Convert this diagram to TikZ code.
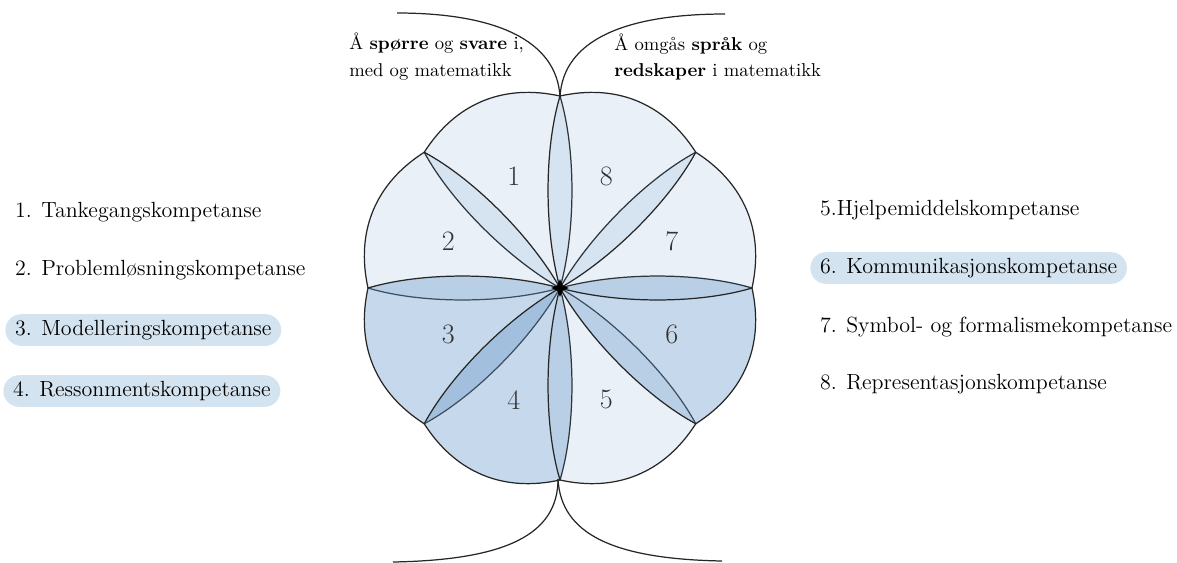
\documentclass[tikz,border=0pt]{standalone}
\usepackage{tikz}
\usetikzlibrary{shapes.geometric,positioning}
\definecolor{petalblue}{RGB}{100,150,200}
\definecolor{pillblue}{RGB}{212,227,240}

\begin{document}
\begin{tikzpicture}[x=0.02cm,y=-0.02cm,
 petal/.style={draw=black!85,line width=0.7pt,fill=petalblue,line join=round},
 pnum/.style={font=\fontsize{16}{18}\selectfont,text=black!80},
 stem/.style={draw=black!85,line width=0.7pt},
 item/.style={anchor=west,font=\fontsize{12.5}{14}\selectfont,inner xsep=5.5pt,
   minimum height=18pt,rounded corners=9pt},
 hitem/.style={item,fill=pillblue},
 head/.style={anchor=west,align=left,inner sep=0pt,font=\fontsize{10.6}{15.3}\selectfont}]
\useasboundingbox (0,0) rectangle (1177,562);
\foreach \k/\ang/\op in {1/112.5/0.14,2/157.5/0.14,3/202.5/0.37,4/247.5/0.37,
  5/292.5/0.14,6/337.5/0.37,7/22.5/0.14,8/67.5/0.14}{
 \begin{scope}[shift={(560,288)},y=0.02cm,rotate=\ang]
  \path [petal,fill opacity=\op] (0,0) .. controls (-38:60) and (-29:140) .. (-22.5:192)
   .. controls +(55:58) and +(-55:58) .. (22.5:192)
   .. controls (29:140) and (38:60) .. (0,0);
  \node [pnum] (n\k) at (0:121) {\k};
 \end{scope}
}
\node [star,star points=4,star point ratio=2.3,fill=black,minimum size=10pt,inner sep=0pt] (hub) at (560,288) {};
\coordinate (top) at (560,97);
\coordinate (bot) at (558,479);
\coordinate (tl) at (397,13);
\coordinate (tr) at (725,14);
\coordinate (bl) at (393,562);
\coordinate (br) at (722,561);
\path [stem] (top) .. controls (557,40) and (495,13) .. (tl);
\path [stem] (top) .. controls (563,40) and (625,14) .. (tr);
\path [stem] (bot) .. controls (558,535) and (505,560) .. (bl);
\path [stem] (bot) .. controls (561,535) and (615,559) .. (br);
\node [head] (qa) at (349,57) {Å \textbf{spørre} og \textbf{svare} i,\\med og matematikk};
\node [head] (tool) at (614,57) {Å omgås \textbf{språk} og\\\textbf{redskaper} i matematikk};
\node [item] (k1) at (5,212) {1. Tankegangskompetanse};
\node [item] (k2) at (5,270) {2. Problemløsningskompetanse};
\node [hitem] (k3) at (5,330) {3. Modelleringskompetanse};
\node [hitem] (k4) at (3,391) {4. Ressonmentskompetanse};
\node [item] (k5) at (810,210) {5.Hjelpemiddelskompetanse};
\node [hitem] (k6) at (810,268) {6. Kommunikasjonskompetanse};
\node [item] (k7) at (810,327) {7. Symbol- og formalismekompetanse};
\node [item] (k8) at (810,384) {8. Representasjonskompetanse};
\end{tikzpicture}
\end{document}
